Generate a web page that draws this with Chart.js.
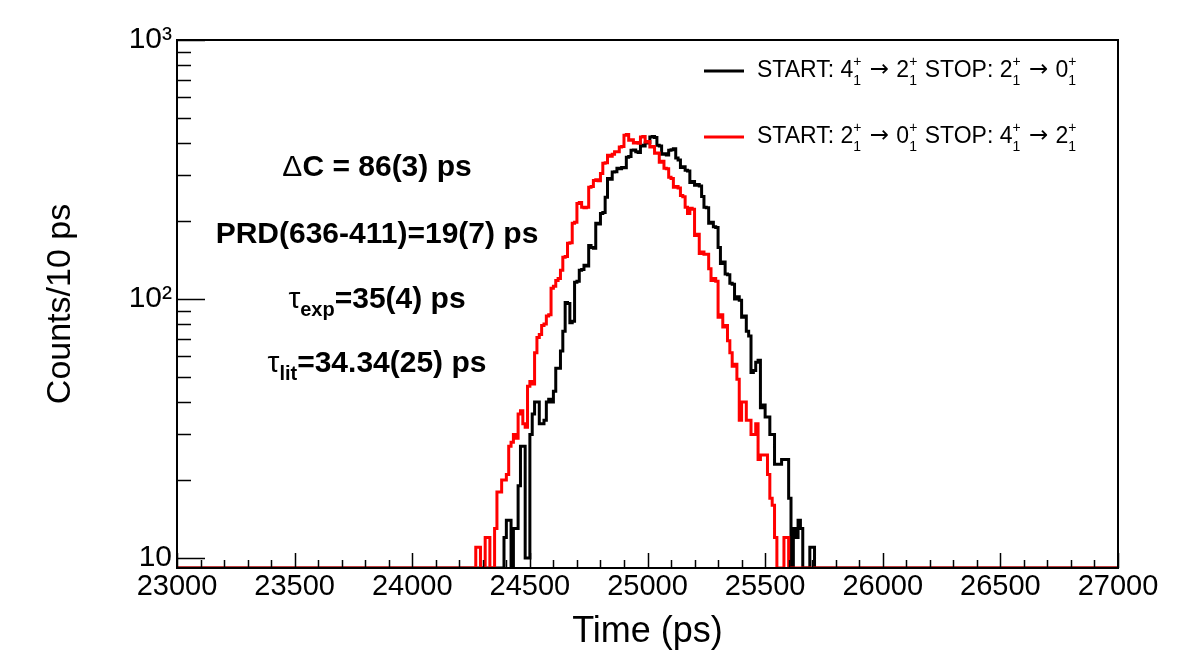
<!DOCTYPE html>
<html>
<head>
<meta charset="utf-8">
<script src="https://cdn.jsdelivr.net/npm/chart.js@4.4.1/dist/chart.umd.min.js"></script>
<style>
  html, body { margin: 0; padding: 0; background: #fff; }
  #wrap { width: 1182px; height: 665px; }
</style>
</head>
<body>
<div id="wrap"><canvas id="timing-chart" width="1182" height="665"></canvas></div>
<script>
const FAMILY = '"Liberation Sans", Arial, Helvetica, sans-serif';

// axis ranges (ps / counts per 10 ps)
const binWidth = 10;
const xMin = 23000;
const xMax = 27000;
const yMin = 9.15;
const yMax = 1000;
const yTickValues = [10, 20, 30, 40, 50, 60, 70, 80, 90, 100, 200, 300, 400, 500, 600, 700, 800, 900, 1000];
const yTickLabels = { 10: '10', 100: '10\u00B2', 1000: '10\u00B3' };

// START: 4+ -> 2+  STOP: 2+ -> 0+   (black), one value per 10 ps bin from blackStart
const blackStart = 24390;
const blackCounts = [
  4, 12, 14, 14, 5, 13, 13, 19, 27, 27,
  10, 10, 30, 36, 40, 40, 33, 33, 34, 40,
  41, 40, 44, 54, 54, 63, 75, 97, 96, 81,
  82, 116, 117, 129, 130, 135, 134, 161, 158, 157,
  196, 195, 214, 216, 247, 292, 290, 309, 310, 320,
  318, 322, 321, 353, 355, 375, 376, 370, 368, 392,
  390, 400, 402, 422, 424, 420, 392, 390, 362, 364,
  360, 375, 377, 380, 350, 344, 322, 324, 314, 312,
  282, 284, 275, 277, 273, 249, 226, 225, 196, 198,
  190, 189, 158, 137, 139, 125, 124, 115, 114, 100,
  102, 99, 85, 86, 75, 72, 52, 53, 57, 58,
  38, 39, 35, 35, 30, 30, 23, 23, 23, 24,
  24, 24, 17, 6, 13, 12, 14, 13, 5, 4,
  6, 11, 11
];

// START: 2+ -> 0+  STOP: 4+ -> 2+   (red), one value per 10 ps bin from redStart
const redStart = 24270;
const redCounts = [
  3, 11, 11, 4, 3, 12, 12, 5, 6, 13,
  18, 18, 20, 20, 21, 27, 28, 30, 29, 36,
  37, 33, 32, 46, 48, 47, 62, 71, 73, 79,
  80, 86, 87, 110, 112, 118, 120, 129, 145, 146,
  164, 165, 196, 198, 234, 236, 226, 225, 226, 270,
  272, 287, 289, 286, 305, 334, 336, 359, 356, 362,
  370, 370, 386, 388, 429, 432, 410, 412, 400, 402,
  399, 422, 424, 404, 406, 386, 388, 365, 366, 337,
  340, 320, 318, 295, 292, 270, 272, 268, 251, 248,
  226, 214, 224, 222, 176, 178, 150, 152, 149, 149,
  131, 118, 120, 117, 85, 87, 78, 79, 69, 62,
  55, 56, 49, 34, 40, 40, 34, 34, 30, 30,
  33, 24, 25, 25, 25, 21, 17, 16, 12, 5,
  4, 6, 12, 12, 3
];

// full histogram over the axis range; empty / under-range bins sit on the frame bottom like ROOT
function histPoints(start, counts) {
  const pts = [];
  for (let t = xMin; t < xMax; t += binWidth) {
    const i = (t - start) / binWidth;
    const c = i >= 0 && i < counts.length ? counts[i] : 0;
    pts.push({ x: t, y: Math.max(c, yMin) });
  }
  pts.push({ x: xMax, y: pts[pts.length - 1].y });
  return pts;
}

// pieces of rich text: plain strings or stacked sup/sub
function drawRich(ctx, pieces, x, y, align) {
  const widths = pieces.map(p => {
    ctx.font = p.font;
    if (p.sup !== undefined) return Math.max(ctx.measureText(p.sup).width, ctx.measureText(p.sub).width) + 1;
    return ctx.measureText(p.text).width;
  });
  const total = widths.reduce((a, b) => a + b, 0);
  let cx = align === 'center' ? x - total / 2 : x;
  ctx.textAlign = 'left';
  ctx.textBaseline = 'alphabetic';
  pieces.forEach((p, i) => {
    ctx.font = p.font;
    if (p.sup !== undefined) {
      ctx.fillText(p.sup, cx, y - p.up);
      ctx.fillText(p.sub, cx, y + p.down);
    } else {
      ctx.fillText(p.text, cx, y + (p.dy || 0));
    }
    cx += widths[i];
  });
}

// ticks inside the frame + frame box
const frameTicks = {
  id: 'frameTicks',
  afterDatasetsDraw(chart) {
    const { ctx, chartArea: a, scales: { x, y } } = chart;
    ctx.save();
    ctx.strokeStyle = '#000';
    ctx.lineWidth = 1.5;
    ctx.beginPath();
    x.ticks.forEach(t => {
      const px = Math.round(x.getPixelForValue(t.value)) + 0.5;
      const len = t.value % 500 === 0 ? 15 : 8;
      ctx.moveTo(px, a.bottom);
      ctx.lineTo(px, a.bottom - len);
    });
    y.ticks.forEach(t => {
      const py = Math.round(y.getPixelForValue(t.value)) + 0.5;
      const len = yTickLabels[t.value] ? 28 : 14;
      ctx.moveTo(a.left, py);
      ctx.lineTo(a.left + len, py);
    });
    ctx.stroke();
    ctx.lineWidth = 2;
    ctx.strokeRect(a.left, a.top, a.right - a.left, a.bottom - a.top);
    ctx.restore();
  }
};

const legendFont = '23px ' + FAMILY;
const arrowFont = '23px "DejaVu Sans", ' + FAMILY;
const smallFont = '14px ' + FAMILY;
function level() { return { sup: '+', sub: '1', font: smallFont, up: 11, down: 8 }; }
function arrow() { return { text: ' \u2192 ', font: arrowFont, dy: -1 }; }

const legendRows = [
  { ds: 0, y: 77, pieces: [
    { text: 'START: 4', font: legendFont }, level(), arrow(), { text: '2', font: legendFont }, level(),
    { text: ' STOP: 2', font: legendFont }, level(), arrow(), { text: '0', font: legendFont }, level()
  ]},
  { ds: 1, y: 143, pieces: [
    { text: 'START: 2', font: legendFont }, level(), arrow(), { text: '0', font: legendFont }, level(),
    { text: ' STOP: 4', font: legendFont }, level(), arrow(), { text: '2', font: legendFont }, level()
  ]}
];

const legendBox = {
  id: 'legendBox',
  afterDraw(chart) {
    const { ctx } = chart;
    ctx.save();
    legendRows.forEach(row => {
      const ds = chart.data.datasets[row.ds];
      ctx.strokeStyle = ds.borderColor;
      ctx.lineWidth = 3;
      ctx.beginPath();
      ctx.moveTo(704, row.y - 6);
      ctx.lineTo(744, row.y - 6);
      ctx.stroke();
      ctx.fillStyle = '#000';
      drawRich(ctx, row.pieces, 757, row.y, 'left');
    });
    ctx.restore();
  }
};

const boldFont = 'bold 30px ' + FAMILY;
const greekFont = '30px ' + FAMILY;
const subFont = 'bold 20px ' + FAMILY;
const noteLines = [
  { y: 176, pieces: [{ text: '\u0394', font: greekFont }, { text: 'C = 86(3) ps', font: boldFont }] },
  { y: 243, pieces: [{ text: 'PRD(636-411)=19(7) ps', font: boldFont }] },
  { y: 308, pieces: [{ text: '\u03C4', font: greekFont }, { text: 'exp', font: subFont, dy: 8 }, { text: '=35(4) ps', font: boldFont }] },
  { y: 372, pieces: [{ text: '\u03C4', font: greekFont }, { text: 'lit', font: subFont, dy: 8 }, { text: '=34.34(25) ps', font: boldFont }] }
];

const notes = {
  id: 'notes',
  afterDraw(chart) {
    const { ctx } = chart;
    ctx.save();
    ctx.fillStyle = '#000';
    noteLines.forEach(l => drawRich(ctx, l.pieces, 377, l.y, 'center'));
    ctx.restore();
  }
};

new Chart(document.getElementById('timing-chart'), {
  type: 'line',
  data: {
    datasets: [
      {
        label: 'START: 4+ -> 2+ STOP: 2+ -> 0+',
        data: histPoints(blackStart, blackCounts),
        borderColor: '#000000',
        borderWidth: 3,
        stepped: 'after',
        pointRadius: 0,
        fill: false,
        order: 1
      },
      {
        label: 'START: 2+ -> 0+ STOP: 4+ -> 2+',
        data: histPoints(redStart, redCounts),
        borderColor: '#ff0000',
        borderWidth: 3,
        stepped: 'after',
        pointRadius: 0,
        fill: false,
        order: 0
      }
    ]
  },
  options: {
    responsive: false,
    animation: false,
    events: [],
    layout: { padding: { top: 40, right: 64, left: 0, bottom: 0 } },
    plugins: { legend: { display: false }, tooltip: { enabled: false } },
    scales: {
      x: {
        type: 'linear',
        min: xMin,
        max: xMax,
        afterFit: s => { s.height = 97; },
        grid: { display: false, drawTicks: false },
        border: { display: false },
        ticks: {
          stepSize: 100,
          autoSkip: false,
          maxRotation: 0,
          padding: 2,
          color: '#000',
          font: { family: FAMILY, size: 29 },
          callback: v => (v % 500 === 0 ? String(v) : '')
        },
        title: {
          display: true,
          text: 'Time (ps)',
          color: '#000',
          font: { family: FAMILY, size: 36 },
          padding: { top: 0, bottom: 11 }
        }
      },
      y: {
        type: 'logarithmic',
        min: yMin,
        max: yMax,
        afterFit: s => { s.width = 177; },
        afterBuildTicks: s => { s.ticks = yTickValues.map(v => ({ value: v })); },
        grid: { display: false, drawTicks: false },
        border: { display: false },
        ticks: {
          autoSkip: false,
          padding: 5,
          color: '#000',
          font: { family: FAMILY, size: 30 },
          callback: v => yTickLabels[v] || ''
        },
        title: {
          display: true,
          text: 'Counts/10 ps',
          color: '#000',
          font: { family: FAMILY, size: 34 },
          padding: { top: 40, bottom: 0 }
        }
      }
    }
  },
  plugins: [frameTicks, legendBox, notes]
});
</script>
</body>
</html>
